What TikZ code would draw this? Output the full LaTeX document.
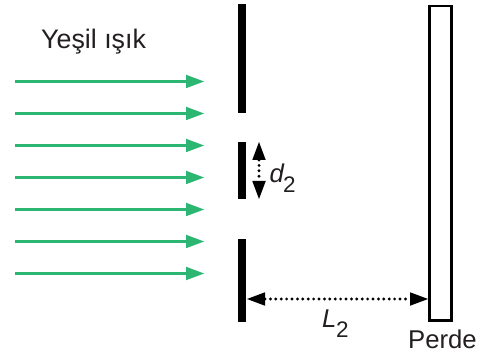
\documentclass[tikz,border=0pt]{standalone}
\usepackage{fontspec}
\setmainfont{Liberation Sans}
\usetikzlibrary{arrows.meta}
\definecolor{beam}{RGB}{43,182,115}
\definecolor{ink}{RGB}{35,31,32}
\tikzset{
  beamarrow/.style={draw=beam,line width=2.6pt,-{Triangle[length=18pt,width=13.5pt,fill=beam,line width=0pt]}},
  barrier/.style={fill=black,draw=none},
  screenbox/.style={draw=black,line width=2.2pt,fill=white},
  dim/.style={draw=black,line width=3.2pt,line cap=round,dash pattern=on 0pt off 5.4pt,{Triangle[length=18pt,width=13.5pt,fill=black,line width=0pt]}-{Triangle[length=18pt,width=13.5pt,fill=black,line width=0pt]}},
  lbl/.style={text=ink,font=\fontsize{25.7}{28}\selectfont,inner sep=0pt,anchor=base west},
  lblbig/.style={lbl,font=\fontsize{26.8}{28}\selectfont},
  lblsub/.style={lbl,font=\fontsize{22.5}{26}\selectfont}
}
\begin{document}
\begin{tikzpicture}[x=1pt,y=-1pt]
\useasboundingbox (0,0) rectangle (498,358);
\fill[barrier] (238,4) rectangle (246,113);
\fill[barrier] (237.5,142.5) rectangle (246,199);
\fill[barrier] (238,239) rectangle (246,322);
\draw[screenbox] (429.5,6) rectangle (451.5,320.5);
\foreach \i/\y in {1/81.5,2/113.5,3/145.5,4/177.5,5/209.5,6/241.5,7/273.5}{
  \coordinate (s\i) at (15,\y);
  \coordinate (e\i) at (204,\y);
  \draw[beamarrow] (s\i) -- (e\i);
}
\coordinate (dt) at (259,142);
\coordinate (db) at (259,199);
\draw[dim] (dt) -- (db);
\coordinate (la) at (247,299);
\coordinate (lb) at (428,299);
\draw[dim] (la) -- (lb);
\node[lblbig] (yesil) at (41,49) {Yeşil ışık};
\node[lbl] (perde) at (408,348) {Perde};
\node[lbl] (d) at (269.5,183) {\itshape d};
\node[lblsub] (dsub) at (283,193) {2};
\node[lbl] (l) at (322,327) {\itshape L};
\node[lblsub] (lsub) at (336,337) {2};
\end{tikzpicture}
\end{document}
